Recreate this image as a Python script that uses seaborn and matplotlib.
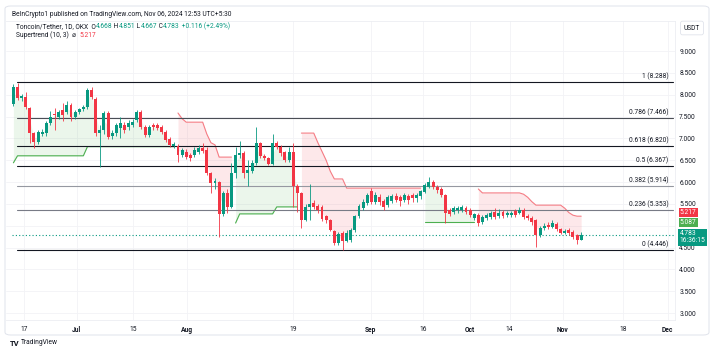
import numpy as np
import pandas as pd
import matplotlib
matplotlib.use("Agg")
import matplotlib.pyplot as plt
import matplotlib.transforms as mtransforms
from matplotlib.patches import FancyBboxPatch
import seaborn as sns

# daily TON/USDT candles (mid-June -> Nov 06 2024)
opens = [7.79, 8.18, 7.92, 7.95, 7.69, 7.12, 6.92, 7.10, 7.12, 7.35,
         7.55, 7.49, 7.65, 7.61, 7.76, 7.49, 7.61, 7.67, 7.72, 8.11,
         7.90, 7.12, 7.19, 7.58, 7.05, 7.12, 7.24, 7.31, 7.26, 7.31,
         7.42, 7.60, 7.26, 7.08, 7.30, 7.30, 7.26, 7.15, 6.99, 6.83,
         6.83, 6.62, 6.69, 6.62, 6.62, 6.69, 6.78, 6.73, 6.21, 5.98,
         5.99, 5.27, 5.75, 5.43, 6.20, 6.61, 6.66, 6.21, 6.26, 6.44,
         6.89, 6.60, 6.55, 6.41, 6.89, 6.80, 6.69, 6.50, 6.69, 5.91,
         5.75, 5.13, 5.43, 5.52, 5.45, 5.43, 5.22, 5.13, 4.88, 4.60,
         4.83, 4.65, 4.67, 4.90, 5.22, 5.40, 5.52, 5.79, 5.54, 5.66,
         5.56, 5.47, 5.56, 5.68, 5.66, 5.59, 5.68, 5.70, 5.63, 5.68,
         5.77, 5.89, 6.00, 5.89, 5.84, 5.70, 5.36, 5.31, 5.36, 5.36,
         5.40, 5.36, 5.17, 5.24, 5.08, 5.17, 5.20, 5.31, 5.22, 5.31,
         5.24, 5.24, 5.33, 5.29, 5.36, 5.22, 5.18, 5.13, 4.79, 4.95,
         5.02, 4.97, 5.04, 4.92, 4.84, 4.90, 4.86, 4.79, 4.668]
highs = [8.24, 8.27, 8.02, 8.05, 7.72, 7.14, 7.20, 7.22, 7.40, 7.62,
         7.70, 7.66, 7.80, 7.85, 7.80, 7.66, 7.70, 7.76, 8.15, 8.18,
         7.95, 7.30, 7.62, 7.62, 7.18, 7.35, 7.50, 7.38, 7.42, 7.45,
         7.65, 7.65, 7.30, 7.30, 7.35, 7.35, 7.30, 7.18, 7.02, 6.92,
         6.88, 6.78, 6.75, 6.66, 6.80, 6.85, 6.90, 6.80, 6.24, 6.10,
         6.03, 5.80, 5.85, 6.43, 6.80, 6.95, 6.70, 6.50, 6.50, 7.25,
         6.92, 6.65, 6.58, 7.10, 6.95, 6.85, 6.72, 6.80, 6.89, 5.95,
         5.78, 5.50, 5.95, 5.58, 5.50, 5.47, 5.25, 5.15, 4.90, 4.85,
         4.88, 4.90, 4.95, 5.25, 5.50, 5.60, 5.75, 5.86, 5.78, 5.72,
         5.60, 5.70, 5.72, 5.75, 5.70, 5.75, 5.72, 5.75, 5.74, 5.82,
         5.98, 6.12, 6.05, 5.93, 5.88, 5.72, 5.40, 5.45, 5.45, 5.48,
         5.45, 5.40, 5.30, 5.28, 5.24, 5.28, 5.33, 5.40, 5.38, 5.35,
         5.33, 5.34, 5.38, 5.42, 5.40, 5.26, 5.22, 5.15, 5.00, 5.06,
         5.08, 5.13, 5.08, 4.95, 4.92, 4.94, 4.90, 4.82, 4.851]
lows = [7.74, 7.88, 7.85, 7.68, 6.90, 6.78, 6.88, 7.05, 7.05, 7.30,
        7.20, 7.45, 7.40, 7.55, 7.40, 7.45, 7.55, 7.63, 7.68, 7.90,
        7.05, 6.35, 7.10, 6.98, 6.98, 7.05, 7.00, 7.12, 7.20, 7.26,
        7.38, 7.22, 7.02, 7.02, 7.20, 7.20, 7.10, 6.92, 6.80, 6.78,
        6.46, 6.58, 6.52, 6.48, 6.58, 6.65, 6.66, 6.15, 5.75, 5.85,
        4.74, 5.22, 5.30, 5.40, 6.10, 6.55, 6.10, 5.90, 6.20, 6.40,
        6.55, 6.50, 6.38, 6.38, 6.75, 6.60, 6.45, 6.45, 5.43, 5.31,
        4.95, 5.10, 5.13, 5.38, 5.30, 5.10, 5.05, 4.88, 4.56, 4.55,
        4.45, 4.62, 4.63, 4.85, 5.18, 5.35, 5.48, 5.50, 5.50, 5.48,
        5.36, 5.42, 5.52, 5.55, 5.45, 5.54, 5.50, 5.55, 5.55, 5.62,
        5.74, 5.86, 5.85, 5.75, 5.65, 5.07, 5.22, 5.27, 5.30, 5.32,
        5.27, 5.20, 5.12, 5.00, 5.04, 5.12, 5.15, 5.15, 5.18, 5.18,
        5.20, 5.19, 5.20, 5.26, 5.16, 5.12, 5.02, 4.52, 4.74, 4.90,
        4.93, 4.95, 4.88, 4.80, 4.80, 4.78, 4.70, 4.58, 4.667]
closes = [8.18, 7.92, 7.97, 7.72, 7.12, 6.92, 7.14, 7.15, 7.35, 7.49,
          7.53, 7.60, 7.53, 7.76, 7.49, 7.61, 7.67, 7.72, 8.11, 7.95,
          7.12, 7.20, 7.58, 7.03, 7.12, 7.30, 7.35, 7.19, 7.35, 7.38,
          7.60, 7.26, 7.08, 7.26, 7.26, 7.24, 7.15, 6.96, 6.85, 6.87,
          6.62, 6.73, 6.57, 6.55, 6.73, 6.78, 6.71, 6.21, 5.98, 6.02,
          5.27, 5.75, 5.43, 6.20, 6.61, 6.66, 6.21, 6.28, 6.44, 6.89,
          6.60, 6.55, 6.41, 6.89, 6.80, 6.67, 6.50, 6.69, 5.91, 5.75,
          5.13, 5.43, 5.50, 5.43, 5.36, 5.15, 5.13, 4.90, 4.60, 4.81,
          4.65, 4.83, 4.90, 5.22, 5.45, 5.54, 5.70, 5.54, 5.70, 5.54,
          5.43, 5.66, 5.68, 5.59, 5.56, 5.70, 5.59, 5.63, 5.70, 5.79,
          5.93, 6.00, 5.89, 5.82, 5.70, 5.29, 5.27, 5.40, 5.40, 5.43,
          5.31, 5.24, 5.26, 5.05, 5.20, 5.24, 5.29, 5.20, 5.29, 5.22,
          5.29, 5.29, 5.24, 5.36, 5.20, 5.17, 5.08, 4.79, 4.95, 4.99,
          4.97, 5.06, 4.92, 4.84, 4.88, 4.83, 4.74, 4.667, 4.783]
# Supertrend (10, 3) level under / over each candle
supertrend = [6.44, 6.60, 6.60, 6.60, 6.60, 6.60, 6.60, 6.60, 6.60, 6.60,
              6.60, 6.60, 6.60, 6.60, 6.60, 6.60, 6.60, 6.60, 6.81, 6.81,
              6.81, 6.81, 6.81, 6.81, 6.81, 6.81, 6.81, 6.81, 6.81, 6.81,
              6.81, 6.81, 6.81, 6.81, 6.81, 6.81, 6.81, 6.81, 6.81, 6.81,
              7.58, 7.45, 7.37, 7.37, 7.37, 7.37, 7.37, 7.10, 6.90, 6.85,
              6.57, 6.57, 6.57, 6.57, 5.06, 5.27, 5.27, 5.27, 5.27, 5.27,
              5.27, 5.27, 5.27, 5.27, 5.43, 5.43, 5.43, 5.43, 5.43, 5.43,
              7.12, 7.12, 7.12, 7.12, 6.90, 6.70, 6.50, 6.25, 6.07, 6.07,
              6.07, 5.86, 5.86, 5.86, 5.86, 5.86, 5.86, 5.86, 5.86, 5.86,
              5.86, 5.86, 5.86, 5.86, 5.86, 5.86, 5.86, 5.86, 5.86, 5.86,
              5.09, 5.09, 5.09, 5.09, 5.09, 5.09, 5.09, 5.09, 5.09, 5.09,
              5.09, 5.09, 5.09, 5.84, 5.75, 5.75, 5.75, 5.75, 5.75, 5.75,
              5.75, 5.75, 5.75, 5.75, 5.72, 5.65, 5.55, 5.47, 5.47, 5.47,
              5.47, 5.47, 5.47, 5.47, 5.40, 5.30, 5.24, 5.217, 5.217]

fib_ratios = ["1", "0.786", "0.618", "0.5", "0.382", "0.236", "0"]
fib_prices = [8.288, 7.466, 6.820, 6.367, 5.914, 5.353, 4.446]
date_labels = ["17", "Jul", "15", "Aug", "19", "Sep", "16", "Oct", "14", "Nov", "18", "Dec"]
date_ticks = [2.55, 15.4, 29.0, 42.2, 67.9, 86.8, 99.5, 110.9, 120.6, 133.5, 148.1, 159.0]
price_ticks = [3.0, 3.5, 4.0, 4.5, 5.0, 5.5, 6.0, 6.5, 7.0, 7.5, 8.0, 8.5, 9.0]
hidden_tick = 5.0          # sits under the price tags on the scale
up_level_label = 5.087
clock = "16:36:15"

UP, DOWN, INK = "#089981", "#f23645", "#131722"
FS = 4.8

sns.set_style("white")
plt.rcParams["font.family"] = ["Roboto", "DejaVu Sans"]

df = pd.DataFrame({"o": opens, "h": highs, "l": lows, "c": closes, "st": supertrend})
df["i"] = np.arange(len(df))
df["mid"] = (df["o"] + df["c"]) / 2
df["trend"] = np.where(df["st"] < df["c"], "up", "down")
df["seg"] = (df["trend"] != df["trend"].shift()).cumsum()

fig = plt.figure(figsize=(7.14, 3.51), dpi=100)
ax = fig.add_axes([6 / 714, 31 / 351, 669 / 714, 299 / 351])

# supertrend fills and lines
for _, g in df.groupby("seg"):
    col = "#4caf50" if g["trend"].iloc[0] == "up" else DOWN
    ax.fill_between(g["i"], g["st"], g["mid"], color=col, alpha=0.11, lw=0)
sns.lineplot(data=df, x="i", y="st", units="seg", estimator=None, hue="trend",
             palette={"up": "#4caf50", "down": "#f57c84"}, lw=0.8, legend=False, ax=ax)

# fibonacci levels
fib_colors = [INK, "#4a4d55", INK, INK, "#9598a1", "#787b86", INK]
for r, p, col in zip(fib_ratios, fib_prices, fib_colors):
    ax.axhline(p, xmin=11 / 669, xmax=0.997, color=col, lw=0.8, zorder=2)
    ax.annotate(f"{r} ({p:.3f})", xy=(0.99, p),
                xycoords=mtransforms.blended_transform_factory(ax.transAxes, ax.transData),
                xytext=(0, 1.2), textcoords="offset points",
                ha="right", va="bottom", fontsize=FS, color=INK)

# candles
colors = np.where(df["c"] >= df["o"], UP, DOWN)
ax.vlines(df["i"], df["l"], df["h"], colors=colors, lw=0.6, zorder=3)
ax.bar(df["i"], np.maximum((df["c"] - df["o"]).abs(), 0.02),
       bottom=np.minimum(df["o"], df["c"]), width=0.72, color=colors, lw=0, zorder=4)

last = df.iloc[-1]
ax.axhline(last["c"], xmin=6 / 669, color=UP, lw=0.8, ls=(0, (1, 2)), zorder=2)

ax.set_xlim(-1.8, 160.8)
ax.set_ylim(2.84, 9.687)
ax.set_xlabel("")
ax.set_ylabel("")
ax.yaxis.tick_right()
ax.set_yticks(price_ticks)
ax.set_yticklabels(["" if v == hidden_tick else f"{v:.3f}" for v in price_ticks])
ax.set_xticks(date_ticks)
ax.set_xticklabels(date_labels)
for t in ax.get_xticklabels():
    if not t.get_text().isdigit():
        t.set_fontweight("bold")
ax.tick_params(axis="both", length=0, labelsize=FS, colors=INK)
ax.tick_params(axis="x", pad=4.5)
ax.tick_params(axis="y", pad=3)
ax.grid(True, color="#f2f3f6", lw=0.6)
ax.set_axisbelow(True)
ax.spines["left"].set_visible(False)
for side in ["right", "bottom", "top"]:
    ax.spines[side].set_color("#eceef2")
    ax.spines[side].set_linewidth(0.6)

# price-axis tags
tag_tf = mtransforms.blended_transform_factory(ax.transAxes, ax.transData)
ax.annotate(f"{supertrend[-1]:.3f}", xy=(1, supertrend[-1]), xycoords=tag_tf,
            xytext=(3.5, 2.6), textcoords="offset points", va="center", ha="left",
            fontsize=FS, color="white", annotation_clip=False,
            bbox=dict(boxstyle="square,pad=0.18", fc=DOWN, ec="none"))
ax.annotate(f"{up_level_label:.3f}", xy=(1, up_level_label), xycoords=tag_tf,
            xytext=(3.5, -0.6), textcoords="offset points", va="center", ha="left",
            fontsize=FS, color="white", annotation_clip=False,
            bbox=dict(boxstyle="square,pad=0.18", fc="#4caf50", ec="none"))
ax.annotate(f"{last['c']:.3f}\n{clock}", xy=(1, last["c"]), xycoords=tag_tf,
            xytext=(3.5, -1.5), textcoords="offset points", va="center", ha="left",
            fontsize=FS, color="white", annotation_clip=False, linespacing=1.0,
            bbox=dict(boxstyle="square,pad=0.22", fc=UP, ec="none"))
fig.text(692 / 714, 1 - 28 / 351, "USDT", ha="center", va="center", fontsize=FS, color=INK,
         bbox=dict(boxstyle="round,pad=0.5,rounding_size=0.3", fc="white", ec="#e0e3eb", lw=0.6))


def chain(parts, x_px, y_px):
    t = ax.annotate(parts[0][0], xy=(x_px, 351 - y_px), xycoords="figure pixels",
                    va="center", ha="left", fontsize=FS, color=parts[0][1], annotation_clip=False)
    for s, col in parts[1:]:
        t = ax.annotate(s, xy=(1, 0), xycoords=t, va="bottom", ha="left",
                        fontsize=FS, color=col, annotation_clip=False)


chg = last["c"] - df["c"].iloc[-2]
chain([("BeInCrypto1 published on TradingView.com, Nov 06, 2024 12:53 UTC+5:30", INK)], 12, 14)
chain([("Toncoin/Tether, 1D, OKX  O", INK), (f"{last['o']:.3f}", UP), (" H", INK),
       (f"{last['h']:.3f}", UP), (" L", INK), (f"{last['l']:.3f}", UP), (" C", INK),
       (f"{last['c']:.3f}", UP),
       (f" {chg:+.3f} ({chg / df['c'].iloc[-2] * 100:+.2f}%)", UP)], 16, 27)
chain([("Supertrend (10, 3)  \u2300  ", INK), (f"{supertrend[-1]:.3f}", DOWN)], 16, 35)

# frame and footer
fig.add_artist(FancyBboxPatch((5 / 714, 16 / 351), 704 / 714, 329 / 351,
                              boxstyle="round,pad=0,rounding_size=0.008",
                              transform=fig.transFigure, fill=False, ec="#e0e3eb", lw=0.7))
fig.text(10 / 714, 1 - 343 / 351, "TV", fontsize=5.5, fontweight="bold", color=INK, va="center")
fig.text(21 / 714, 1 - 343 / 351, "TradingView", fontsize=FS, color=INK, va="center")

fig.savefig("out.png", dpi=100)
